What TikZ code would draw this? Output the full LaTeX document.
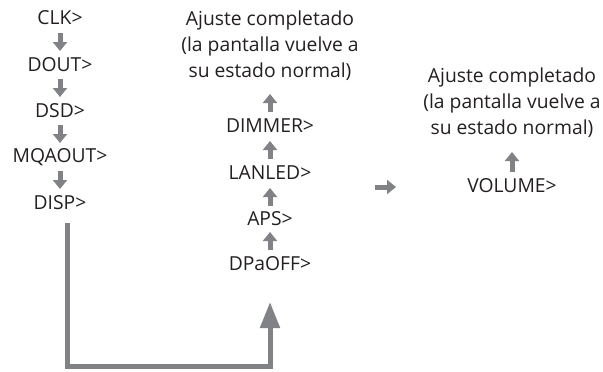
\documentclass[tikz,border=0pt]{standalone}
\usepackage{fontspec}
\setmainfont{Open Sans}
\usetikzlibrary{arrows.meta}
\definecolor{ag}{HTML}{808285}
\definecolor{tx}{HTML}{231F20}
\begin{document}
\begin{tikzpicture}[x=1pt,y=-1pt,
  lbl/.style={font=\fontsize{19.3}{26}\selectfont,text=tx,inner sep=0pt,align=center},
  sarr/.style={draw=ag,line width=5pt,-{Triangle[length=9pt,width=14pt]}},
  barr/.style={draw=ag,line width=5pt,-{Triangle[length=26pt,width=19pt]}}]
\useasboundingbox (0,0) rectangle (603,372);
% left column
\node[lbl] (clk) at (60,18) {CLK>};
\node[lbl] (dout) at (60,65) {DOUT>};
\node[lbl] (dsd) at (60,111) {DSD>};
\node[lbl] (mqa) at (60,157) {MQAOUT>};
\node[lbl] (disp) at (60,203) {DISP>};
% middle column
\node[lbl] (aj1) at (270,46) {Ajuste completado\\(la pantalla vuelve a\\su estado normal)};
\node[lbl] (dim) at (270,126) {DIMMER>};
\node[lbl] (lan) at (270,173) {LANLED>};
\node[lbl] (aps) at (270,219) {APS>};
\node[lbl] (dpa) at (270,264) {DPaOFF>};
% right column
\node[lbl] (aj2) at (512,103) {Ajuste completado\\(la pantalla vuelve a\\su estado normal)};
\node[lbl] (vol) at (512,186) {VOLUME>};
% small arrows
\coordinate (a1s) at (60,33); \coordinate (a1e) at (60,51);
\coordinate (a2s) at (60,79); \coordinate (a2e) at (60,97);
\coordinate (a3s) at (60,125); \coordinate (a3e) at (60,143);
\coordinate (a4s) at (60,171); \coordinate (a4e) at (60,189);
\draw[sarr] (a1s) -- (a1e);
\draw[sarr] (a2s) -- (a2e);
\draw[sarr] (a3s) -- (a3e);
\draw[sarr] (a4s) -- (a4e);
\coordinate (b1s) at (270,250); \coordinate (b1e) at (270,232);
\coordinate (b2s) at (270,206); \coordinate (b2e) at (270,188);
\coordinate (b3s) at (270,159); \coordinate (b3e) at (270,141);
\coordinate (b4s) at (270,112); \coordinate (b4e) at (270,94);
\draw[sarr] (b1s) -- (b1e);
\draw[sarr] (b2s) -- (b2e);
\draw[sarr] (b3s) -- (b3e);
\draw[sarr] (b4s) -- (b4e);
\coordinate (c1s) at (512,172); \coordinate (c1e) at (512,152);
\draw[sarr] (c1s) -- (c1e);
\coordinate (r1s) at (375,187); \coordinate (r1e) at (396,187);
\draw[sarr] (r1s) -- (r1e);
% L connector
\coordinate (ls) at (67,223);
\coordinate (lc1) at (67,366);
\coordinate (lc2) at (270,366);
\coordinate (le) at (270,302);
\draw[barr] (ls) -- (lc1) -- (lc2) -- (le);
\end{tikzpicture}
\end{document}
